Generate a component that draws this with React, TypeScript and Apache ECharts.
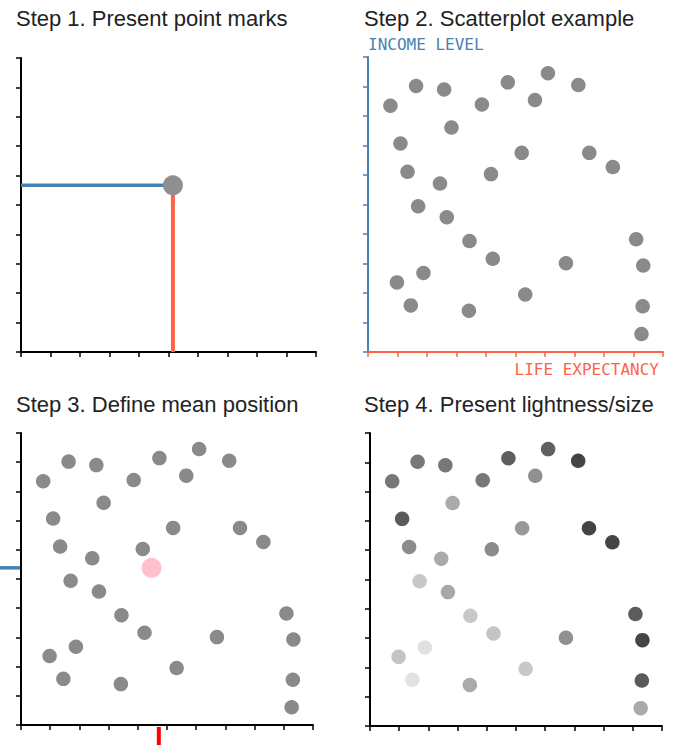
import React, { useEffect, useRef } from "react";
import * as echarts from "echarts";

// ---- text ----
const TITLES = [
  "Step 1. Present point marks",
  "Step 2. Scatterplot example",
  "Step 3. Define mean position",
  "Step 4. Present lightness/size",
];
const Y_AXIS_LABEL = "INCOME LEVEL";
const X_AXIS_LABEL = "LIFE EXPECTANCY";

// ---- data (axis units 0..10) ----
const lifeExpectancy = [
  0.76, 1.63, 2.58, 3.86, 4.74, 5.66, 6.1, 7.13, 2.83, 1.1,
  5.21, 7.5, 8.3, 1.34, 4.17, 2.44, 1.7, 2.67, 3.44, 4.23,
  6.71, 9.09, 9.33, 1.88, 0.98, 1.45, 3.42, 5.33, 9.31, 9.27,
];
const incomeLevel = [
  8.35, 9.02, 8.9, 8.39, 9.14, 8.54, 9.45, 9.05, 7.61, 7.07,
  6.75, 6.75, 6.27, 6.11, 6.03, 5.71, 4.94, 4.57, 3.76, 3.16,
  3.01, 3.82, 2.93, 2.68, 2.36, 1.58, 1.4, 1.95, 1.55, 0.61,
];
// grey level (0 = black, 255 = white) of each point in step 4
const lightness = [
  119, 119, 119, 119, 95, 144, 96, 68, 170, 90,
  153, 68, 69, 140, 140, 170, 200, 168, 200, 196,
  144, 92, 69, 224, 196, 226, 170, 200, 90, 170,
];
const examplePoint = [5.15, 5.67];
const meanMarkerX = 4.72;

const AXIS_MIN = 0;
const AXIS_MAX = 10;
const AXIS_STEP = 1;

const BLUE = "#4682b4";
const TOMATO = "#ff6347";
const POINT_GREY = "#8a8a8a";
const TITLE_FONT = '"Liberation Sans", Arial, Helvetica, sans-serif';
const MONO_FONT = '"DejaVu Sans Mono", "Liberation Mono", monospace';

const points = lifeExpectancy.map((x, i) => [x, incomeLevel[i]]);
const meanX = lifeExpectancy.reduce((a, b) => a + b, 0) / lifeExpectancy.length;
const meanY = incomeLevel.reduce((a, b) => a + b, 0) / incomeLevel.length;

function makeAxis(gridIndex: number, color: string, extra: any = {}) {
  return {
    type: "value",
    gridIndex,
    min: AXIS_MIN,
    max: AXIS_MAX,
    interval: AXIS_STEP,
    axisLine: { show: true, onZero: false, lineStyle: { color, width: 2 } },
    axisTick: { show: true, length: 5, lineStyle: { color, width: 1.5 } },
    axisLabel: { show: false },
    splitLine: { show: false },
    ...extra,
  };
}

export default function App() {
  const ref = useRef<HTMLDivElement>(null);

  useEffect(() => {
    if (!ref.current) return;
    const chart = echarts.init(ref.current, undefined, { renderer: "svg" });

    const titlePos = [
      { left: 16, top: 7 },
      { left: 364, top: 7 },
      { left: 16, top: 393 },
      { left: 364, top: 393 },
    ];

    const option: any = {
      animation: false,
      backgroundColor: "#fff",
      title: TITLES.map((t, i) => ({
        text: t,
        left: titlePos[i].left,
        top: titlePos[i].top,
        padding: 0,
        textStyle: {
          fontFamily: TITLE_FONT,
          fontSize: 22,
          fontWeight: "normal",
          color: "#222",
        },
      })),
      grid: [
        { left: 21, top: 58, width: 295, height: 294 },
        { left: 368, top: 57, width: 295, height: 295 },
        { left: 21, top: 433, width: 292, height: 292 },
        { left: 370, top: 433, width: 292, height: 293 },
      ],
      xAxis: [
        makeAxis(0, "#000"),
        makeAxis(1, TOMATO, {
          name: X_AXIS_LABEL,
          nameLocation: "end",
          nameGap: -4,
          nameTextStyle: {
            fontFamily: MONO_FONT,
            fontSize: 16,
            color: TOMATO,
            align: "right",
            verticalAlign: "top",
            padding: [9, 0, 0, 0],
          },
        }),
        makeAxis(2, "#000"),
        makeAxis(3, "#000"),
      ],
      yAxis: [
        makeAxis(0, "#000"),
        makeAxis(1, BLUE, {
          name: Y_AXIS_LABEL,
          nameLocation: "end",
          nameGap: 5,
          nameTextStyle: {
            fontFamily: MONO_FONT,
            fontSize: 16,
            color: BLUE,
            align: "left",
            verticalAlign: "bottom",
          },
        }),
        makeAxis(2, "#000"),
        makeAxis(3, "#000"),
      ],
      series: [
        {
          type: "line",
          xAxisIndex: 0,
          yAxisIndex: 0,
          data: [
            [AXIS_MIN, examplePoint[1]],
            [examplePoint[0], examplePoint[1]],
          ],
          symbol: "none",
          lineStyle: { color: BLUE, width: 3.5 },
          z: 2,
        },
        {
          type: "line",
          xAxisIndex: 0,
          yAxisIndex: 0,
          data: [
            [examplePoint[0], AXIS_MIN],
            [examplePoint[0], examplePoint[1]],
          ],
          symbol: "none",
          lineStyle: { color: TOMATO, width: 4 },
          z: 2,
        },
        {
          type: "scatter",
          xAxisIndex: 0,
          yAxisIndex: 0,
          data: [examplePoint],
          symbolSize: 20,
          itemStyle: { color: "#8f8f8f", opacity: 1 },
          z: 3,
        },
        {
          type: "scatter",
          xAxisIndex: 1,
          yAxisIndex: 1,
          data: points,
          symbolSize: 14.5,
          itemStyle: { color: POINT_GREY, opacity: 1 },
        },
        {
          type: "scatter",
          xAxisIndex: 2,
          yAxisIndex: 2,
          data: points,
          symbolSize: 14.5,
          itemStyle: { color: POINT_GREY, opacity: 1 },
        },
        {
          type: "scatter",
          xAxisIndex: 2,
          yAxisIndex: 2,
          data: [[meanX, meanY]],
          symbolSize: 20,
          itemStyle: { color: "#ffc0cb", opacity: 1 },
          z: 3,
        },
        {
          type: "scatter",
          xAxisIndex: 3,
          yAxisIndex: 3,
          data: points.map((p, i) => ({
            value: p,
            itemStyle: {
              color: `rgb(${lightness[i]},${lightness[i]},${lightness[i]})`,
              opacity: 1,
            },
          })),
          symbolSize: 14.5,
        },
      ],
    };

    chart.setOption(option);

    // mean markers outside step 3's axes, placed through the axis scales
    const pMeanY = chart.convertToPixel({ gridIndex: 2 }, [AXIS_MIN, meanY]) as number[];
    const pMarkX = chart.convertToPixel({ gridIndex: 2 }, [meanMarkerX, AXIS_MIN]) as number[];
    chart.setOption({
      graphic: [
        {
          type: "line",
          shape: { x1: 0, y1: pMeanY[1], x2: pMeanY[0] - 1, y2: pMeanY[1] },
          style: { stroke: BLUE, lineWidth: 3.5 },
        },
        {
          type: "line",
          shape: { x1: pMarkX[0], y1: pMarkX[1] + 2, x2: pMarkX[0], y2: 745 },
          style: { stroke: "#ff0000", lineWidth: 4 },
        },
      ],
    });

    return () => chart.dispose();
  }, []);

  return (
    <div
      ref={ref}
      style={{ position: "absolute", left: 0, top: 0, width: 675, height: 745 }}
    />
  );
}
